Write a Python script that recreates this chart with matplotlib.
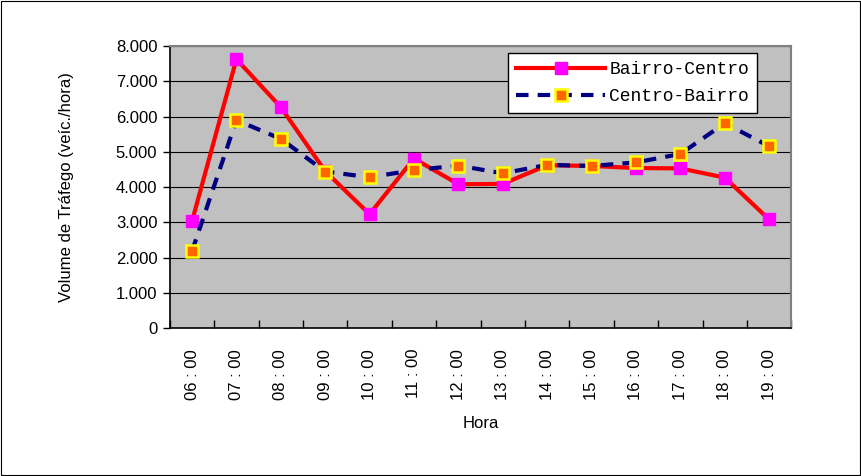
import numpy as np
import matplotlib
matplotlib.use("Agg")
import matplotlib.pyplot as plt
from matplotlib.patches import Rectangle
from matplotlib.ticker import FuncFormatter, FixedLocator

horas = ["06:00", "07:00", "08:00", "09:00", "10:00", "11:00", "12:00",
         "13:00", "14:00", "15:00", "16:00", "17:00", "18:00", "19:00"]
bairro_centro = [3030, 7630, 6270, 4450, 3230, 4810, 4080,
                 4090, 4620, 4600, 4540, 4530, 4270, 3080]
centro_bairro = [2180, 5900, 5370, 4440, 4280, 4480, 4610,
                 4390, 4630, 4600, 4700, 4940, 5810, 5160]

plt.rcParams["font.family"] = ["Liberation Sans", "DejaVu Sans"]

fig = plt.figure(figsize=(8.62, 4.76), dpi=100)
fig.patches.append(Rectangle((0.001, 0.002), 0.997, 0.996, transform=fig.transFigure,
                             fill=False, edgecolor="black", linewidth=0.8))
ax = fig.add_axes([0.197, 0.311, 0.721, 0.592])
ax.set_facecolor("#C0C0C0")

x = np.arange(len(horas))
ax.plot(x, bairro_centro, color="red", linewidth=3, marker="s", markersize=9,
        markerfacecolor="#FF00FF", markeredgecolor="#FF00FF", label="Bairro-Centro",
        zorder=3)
ax.plot(x, centro_bairro, color="#000080", linewidth=3, linestyle=(0, (3, 2.2)),
        marker="s", markersize=8, markerfacecolor="#FF6600", markeredgecolor="#FFFF00",
        markeredgewidth=1.8, label="Centro-Bairro", zorder=4)

ax.set_xlim(-0.5, len(horas) - 0.5)
ax.set_ylim(0, 8000)
ax.set_yticks(np.arange(0, 8001, 1000))
ax.yaxis.set_major_formatter(FuncFormatter(lambda v, p: f"{int(v):,}".replace(",", ".")))
ax.grid(axis="y", color="black", linewidth=0.8)
ax.set_axisbelow(True)

# hour labels are drawn with a little air around the colon
ax.set_xticks(x)
ax.set_xticklabels([h.replace(":", " : ") for h in horas], rotation=90, fontsize=12)
ax.xaxis.set_minor_locator(FixedLocator(np.arange(-0.5, len(horas), 1.0)))
ax.tick_params(axis="x", which="major", length=0, pad=15)
ax.tick_params(axis="x", which="minor", direction="in", length=6, width=1, color="black")
ax.tick_params(axis="y", direction="out", length=5, width=1, labelsize=12, pad=4)

for side in ["top", "right"]:
    ax.spines[side].set_color("#808080")
    ax.spines[side].set_linewidth(1.5)
ax.spines["left"].set_color("black")
ax.spines["bottom"].set_color("black")
ax.spines["left"].set_linewidth(1.2)
ax.spines["bottom"].set_linewidth(1.2)

ax.set_ylabel("Volume de Tráfego (veíc./hora)", fontsize=12, labelpad=30)
ax.set_xlabel("Hora", fontsize=12, labelpad=12)

leg = ax.legend(loc="upper right", bbox_to_anchor=(0.945, 0.975), borderaxespad=0,
                prop={"family": ["Liberation Mono", "DejaVu Sans Mono"], "size": 13},
                fancybox=False, framealpha=1, edgecolor="black", handlelength=4.9,
                borderpad=0.45, labelspacing=0.55, handletextpad=0.25)
leg.get_frame().set_linewidth(1)

fig.savefig("out.png", dpi=100)
